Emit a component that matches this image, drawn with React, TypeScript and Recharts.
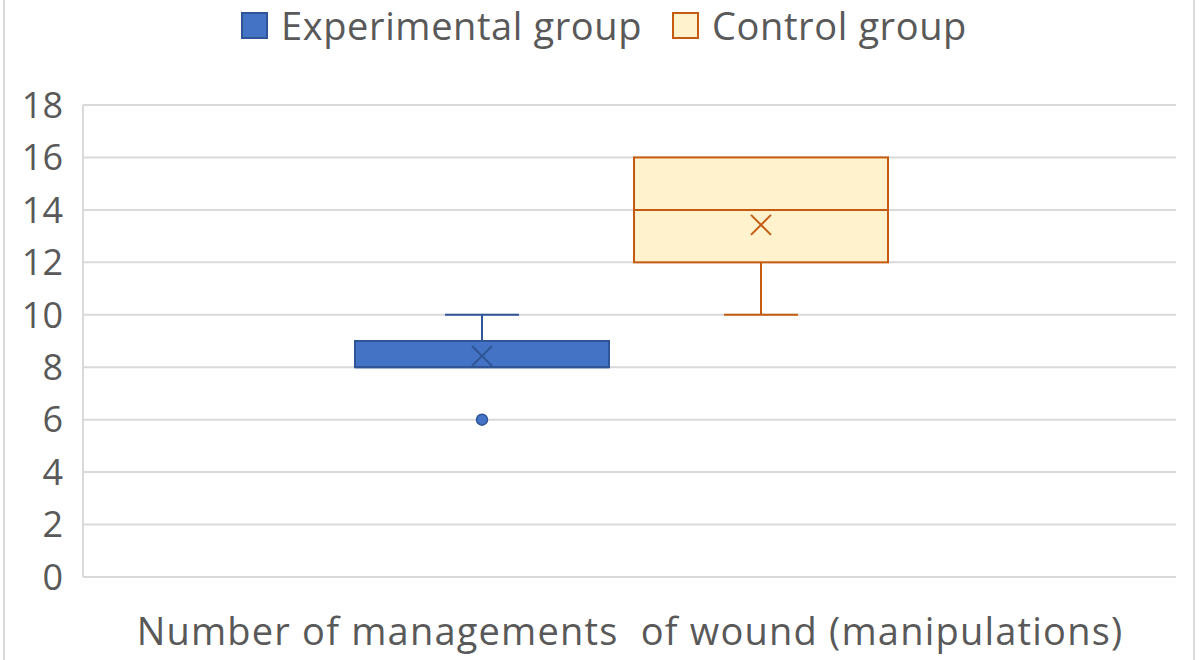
import React from 'react'
import { ComposedChart, Bar, XAxis, YAxis, CartesianGrid, Legend } from 'recharts'

const category = 'Number of managements  of wound (manipulations)'
const groups = ['Experimental group', 'Control group']
const q1 = [8, 12]
const median = [8, 14]
const q3 = [9, 16]
const whiskerLow = [8, 10]
const whiskerHigh = [10, 16]
const means = [8.43, 13.43]
const outliers = [[6], []]
const yTicks = [0, 2, 4, 6, 8, 10, 12, 14, 16, 18]

const fills = ['#4472C4', '#FFF2CC']
const strokes = ['#2F5597', '#C55A11']
const FONT = '"Open Sans", sans-serif'

const data = [
  {
    name: category,
    exp: [q1[0], q3[0]],
    ctrl: [q1[1], q3[1]],
  },
]

const makeBox = (i: number) => (props: any) => {
  const { x, y, width, height } = props
  const ppu = height / (q3[i] - q1[i])
  const bottom = y + height
  const yOf = (v: number) => bottom - (v - q1[i]) * ppu
  const cx = x + width / 2
  const cap = 37
  const s = strokes[i]
  const m = 10
  const my = yOf(means[i])
  return (
    <g>
      {whiskerHigh[i] > q3[i] && (
        <g stroke={s} strokeWidth={2}>
          <line x1={cx} x2={cx} y1={yOf(q3[i])} y2={yOf(whiskerHigh[i])} />
          <line x1={cx - cap} x2={cx + cap} y1={yOf(whiskerHigh[i])} y2={yOf(whiskerHigh[i])} />
        </g>
      )}
      {whiskerLow[i] < q1[i] && (
        <g stroke={s} strokeWidth={2}>
          <line x1={cx} x2={cx} y1={yOf(q1[i])} y2={yOf(whiskerLow[i])} />
          <line x1={cx - cap} x2={cx + cap} y1={yOf(whiskerLow[i])} y2={yOf(whiskerLow[i])} />
        </g>
      )}
      <rect x={x} y={y} width={width} height={height} fill={fills[i]} stroke={s} strokeWidth={2} />
      <line x1={x} x2={x + width} y1={yOf(median[i])} y2={yOf(median[i])} stroke={s} strokeWidth={2} />
      <g stroke={s} strokeWidth={2}>
        <line x1={cx - m} x2={cx + m} y1={my - m} y2={my + m} />
        <line x1={cx - m} x2={cx + m} y1={my + m} y2={my - m} />
      </g>
      {outliers[i].map((o, k) => (
        <circle key={k} cx={cx} cy={yOf(o)} r={5.5} fill={fills[i]} stroke={s} strokeWidth={1.5} />
      ))}
    </g>
  )
}

const LegendContent = () => (
  <div
    style={{
      display: 'flex',
      justifyContent: 'center',
      alignItems: 'center',
      height: 50,
      fontFamily: FONT,
      fontSize: 38,
      letterSpacing: 0.6,
      color: '#595959',
      paddingLeft: 8,
    }}
  >
    {groups.map((g, i) => (
      <div key={g} style={{ display: 'flex', alignItems: 'center', marginRight: i === 0 ? 30 : 0 }}>
        <span
          style={{
            display: 'inline-block',
            width: 23,
            height: 23,
            background: fills[i],
            border: `2px solid ${strokes[i]}`,
            marginRight: 13,
          }}
        />
        <span>{g}</span>
      </div>
    ))}
  </div>
)

const XTick = (props: any) => {
  const { x, y, payload } = props
  return (
    <text
      x={x + 9}
      y={y + 60}
      textAnchor="middle"
      fontFamily={FONT}
      fontSize={38}
      letterSpacing={1.2}
      fill="#595959"
      style={{ whiteSpace: 'pre' }}
    >
      {payload.value}
    </text>
  )
}

export default function App() {
  return (
    <div style={{ position: 'absolute', left: 0, top: 0, width: 1200, height: 660, background: '#fff' }}>
      <div
        style={{
          position: 'absolute',
          left: 3,
          top: 0,
          width: 1192,
          height: 660,
          borderLeft: '2px solid #d9d9d9',
          borderRight: '2px solid #d9d9d9',
          boxSizing: 'border-box',
          pointerEvents: 'none',
        }}
      />
      <ComposedChart
        width={1200}
        height={660}
        data={data}
        margin={{ top: 55, right: 24, bottom: 0, left: 0 }}
        barSize={254}
        barGap={25}
      >
        <CartesianGrid vertical={false} stroke="#d9d9d9" strokeWidth={2} />
        <Legend verticalAlign="top" content={<LegendContent />} wrapperStyle={{ top: 0, left: 0, width: 1200 }} />
        <XAxis
          dataKey="name"
          height={83}
          axisLine={{ stroke: '#d9d9d9', strokeWidth: 2 }}
          tickLine={false}
          tick={<XTick />}
          padding={{ left: 0, right: 17 }}
        />
        <YAxis
          width={83}
          domain={[0, 18]}
          ticks={yTicks}
          interval={0}
          axisLine={{ stroke: '#d9d9d9', strokeWidth: 2 }}
          tickLine={false}
          tickMargin={14}
          tick={{ fontFamily: FONT, fontSize: 36, fill: '#595959' }}
        />
        <Bar dataKey="exp" name={groups[0]} shape={makeBox(0)} isAnimationActive={false} />
        <Bar dataKey="ctrl" name={groups[1]} shape={makeBox(1)} isAnimationActive={false} />
      </ComposedChart>
    </div>
  )
}
